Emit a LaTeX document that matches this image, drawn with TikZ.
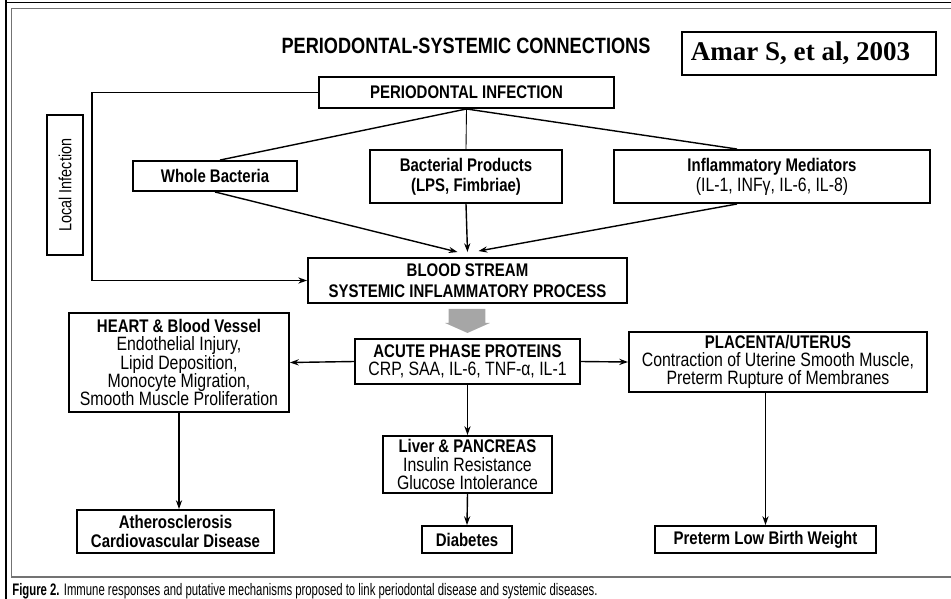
\documentclass[tikz,border=0pt]{standalone}
\usepackage{fontspec}
\setmainfont{Liberation Sans}[FakeStretch=0.82]
\newfontfamily\capfont{Liberation Sans}[FakeStretch=0.68]
\newfontfamily\amarfont{Liberation Serif}
\usetikzlibrary{arrows.meta}
\tikzset{
  box/.style={draw, line width=1.1pt, align=center, inner sep=1pt, font=\fontsize{11}{10.4}\selectfont},
  bbox/.style={box, font=\fontsize{10.4}{11.4}\selectfont\bfseries},
  arr/.style={-{Stealth[length=5pt,width=3.5pt]}, line width=0.8pt},
  link/.style={line width=0.8pt}
}

\begin{document}
\begin{tikzpicture}[x=0.02cm,y=-0.02cm]%,>=latex]
\useasboundingbox (0,0) rectangle (951,599);

% frame
\draw[line width=1.7pt] (6,0) -- (6,599);
\draw[line width=0.9pt] (6,2.5) -- (951,2.5);
\draw[line width=1.1pt, black!55] (951,8.5) -- (11.5,8.5) -- (11.5,577) -- (951,577);

\node[font=\fontsize{12.6}{13}\selectfont\bfseries] (title) at (466,46) {PERIODONTAL-SYSTEMIC CONNECTIONS};
\node[draw, line width=0.8pt, minimum width=5.08cm, minimum height=0.86cm, font=\amarfont\bfseries\fontsize{15.4}{16}\selectfont] (amar) at (809,53.5) {Amar S, et al, 2003\hspace*{0.34cm}};

\node[bbox, minimum width=5.9cm, minimum height=0.62cm] (pi) at (466.5,92.5) {PERIODONTAL INFECTION};
\node[box, rotate=90, minimum width=2.8cm, minimum height=0.72cm, font=\fontsize{10}{11}\selectfont] (li) at (65,185) {Local Infection};
\node[bbox, minimum width=3.28cm, minimum height=0.6cm] (wb) at (215,176) {Whole Bacteria};
\node[bbox, minimum width=3.84cm, minimum height=1.06cm] (bp) at (466,176.5) {Bacterial Products\\(LPS, Fimbriae)};
\node[bbox, minimum width=6.32cm, minimum height=1.06cm] (im) at (772,176.5) {Inflammatory Mediators\\\mdseries\fontsize{11}{11.4}\selectfont(IL-1, INFγ, IL-6, IL-8)};
\node[bbox, minimum width=6.38cm, minimum height=0.9cm, font=\fontsize{10.4}{12}\selectfont\bfseries] (bs) at (467.5,280.5) {BLOOD STREAM\\SYSTEMIC INFLAMMATORY PROCESS};

\node[box, minimum width=4.5cm, minimum height=0.9cm] (ap) at (467.5,361.5) {\textbf{\fontsize{10.4}{10.6}\selectfont ACUTE PHASE PROTEINS}\\CRP, SAA, IL-6, TNF-α, IL-1};
\node[box, minimum width=4.4cm, minimum height=1.98cm] (heart) at (179,362.5) {\textbf{\fontsize{10.4}{10.4}\selectfont HEART \& Blood Vessel}\\Endothelial Injury,\\Lipid Deposition,\\Monocyte Migration,\\Smooth Muscle Proliferation};
\node[box, minimum width=5.96cm, minimum height=1.2cm] (pu) at (778,362) {\textbf{\fontsize{10.4}{10.6}\selectfont PLACENTA/UTERUS}\\Contraction of Uterine Smooth Muscle,\\Preterm Rupture of Membranes};
\node[box, minimum width=3.38cm, minimum height=1.14cm] (lp) at (467.5,464.5) {\textbf{\fontsize{10.4}{10.6}\selectfont Liver \& PANCREAS}\\Insulin Resistance\\Glucose Intolerance};

\node[bbox, minimum width=3.94cm, minimum height=0.86cm, font=\fontsize{10.4}{10.6}\selectfont\bfseries] (ath) at (175.5,531.5) {Atherosclerosis\\Cardiovascular Disease};
\node[bbox, minimum width=1.8cm, minimum height=0.54cm] (dia) at (467,539.5) {Diabetes};
\node[bbox, minimum width=4.42cm, minimum height=0.54cm] (plbw) at (765.5,539.5) {Preterm Low Birth Weight};

% links from the infection
\coordinate (loop) at (92,185);
\draw[arr] (pi.west) -| (loop) |- (bs.west);
\draw[link] (pi.south) -- ([xshift=0.1cm]wb.north);
\draw[line width=0.5pt] (pi.south) -- (bp.north);
\draw[link] (pi.south) -- ([xshift=-0.7cm]im.north);
\draw[arr] (wb.south) -- ([xshift=-0.2cm,yshift=0.1cm]bs.north);
\draw[arr] (bp.south) -- ([yshift=0.1cm]bs.north);
\draw[arr] ([xshift=-0.7cm]im.south) -- ([xshift=0.22cm,yshift=0.12cm]bs.north);

% gray arrow
\fill[black!35] ([xshift=-0.38cm,yshift=-0.1cm]bs.south) -- ([xshift=0.36cm,yshift=-0.1cm]bs.south)
  -- ([xshift=0.36cm,yshift=-0.38cm]bs.south) -- ([xshift=0.45cm,yshift=-0.38cm]bs.south)
  -- ([yshift=-0.58cm]bs.south) -- ([xshift=-0.45cm,yshift=-0.38cm]bs.south)
  -- ([xshift=-0.38cm,yshift=-0.38cm]bs.south) -- cycle;

\draw[arr] (ap.west) -- (heart.east);
\draw[arr] (ap.east) -- (pu.west);
\draw[arr] (ap.south) -- (lp.north);
\draw[arr] (lp.south) -- (dia.north);
\draw[arr] (heart.south) -- (heart.south |- ath.north);
\draw[arr] (plbw.north |- pu.south) -- (plbw.north);

\node[anchor=west, inner sep=0pt, font=\capfont\fontsize{9.5}{10}\selectfont] (cap) at (12,591) {\textbf{Figure 2.} Immune responses and putative mechanisms proposed to link periodontal disease and systemic diseases.};
\end{tikzpicture}
\end{document}
